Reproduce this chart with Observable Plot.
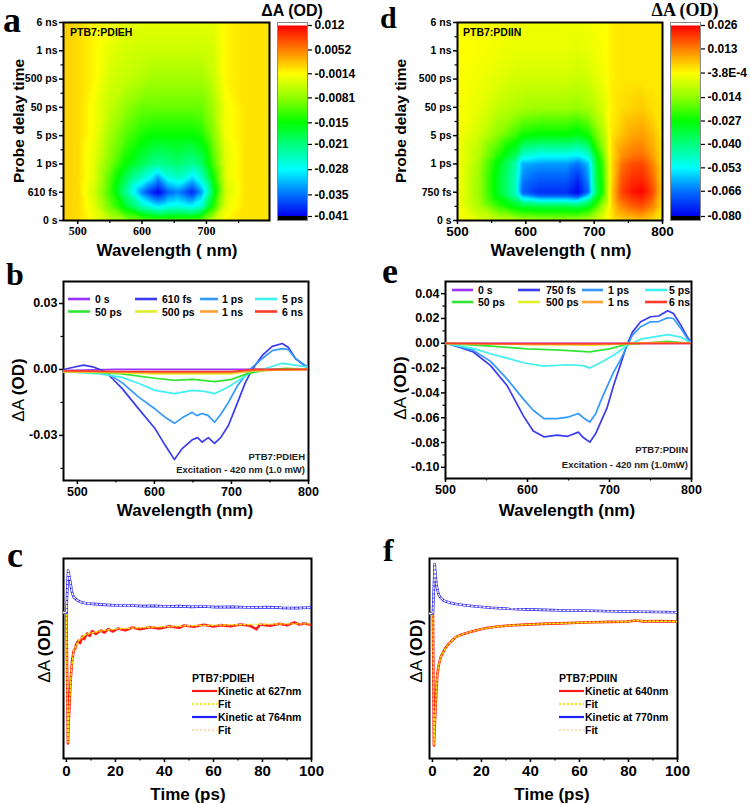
<!DOCTYPE html>
<html><head><meta charset="utf-8">
<script src="https://cdn.jsdelivr.net/npm/d3@7"></script>
<script src="https://cdn.jsdelivr.net/npm/@observablehq/plot@0.6"></script>
<style>
body{margin:0;background:#fff;}
#fig{position:relative;width:750px;height:804px;overflow:hidden;background:#fff;}
#fig > .p{position:absolute;}
#overlay{position:absolute;left:0;top:0;pointer-events:none;}
</style></head><body><div id="fig"></div>
<script>
// ================= DATA =================
// --- heatmap a (PTB7:PDIEH) ---
const timeLabelsA = ["0 s","610 fs","1 ps","5 ps","50 ps","500 ps","1 ns","6 ns"];
const heatAWl = [478, 500, 525, 550, 575, 600, 615, 625, 640, 655, 665, 678, 692, 710, 730, 760, 798];
const heatARow = [0, 0.5, 1, 1.5, 2, 3, 4, 5, 6, 7];
const heatAVals = [
 [0.001, 0.0005, -0.002, -0.005, -0.008, -0.010, -0.011, -0.011, -0.011, -0.011, -0.011, -0.011, -0.010, -0.005, -0.001, 0, 0],
 [0.001, 0.0005, -0.003, -0.010, -0.017, -0.024, -0.027, -0.029, -0.027, -0.026, -0.027, -0.028, -0.025, -0.014, -0.003, 0, 0],
 [0.001, 0.0005, -0.004, -0.012, -0.022, -0.034, -0.039, -0.041, -0.036, -0.034, -0.036, -0.039, -0.033, -0.018, -0.004, 0, 0],
 [0.001, 0.0005, -0.003, -0.011, -0.019, -0.025, -0.029, -0.033, -0.027, -0.025, -0.026, -0.030, -0.025, -0.015, -0.003, 0, 0],
 [0.001, 0.0005, -0.003, -0.009, -0.015, -0.019, -0.021, -0.022, -0.021, -0.020, -0.021, -0.022, -0.020, -0.012, -0.003, 0, 0],
 [0.001, 0.0005, -0.002, -0.007, -0.011, -0.014, -0.015, -0.015, -0.015, -0.015, -0.015, -0.015, -0.014, -0.009, -0.002, 0, 0],
 [0.001, 0.0005, -0.002, -0.005, -0.008, -0.010, -0.010, -0.010, -0.010, -0.010, -0.010, -0.010, -0.010, -0.007, -0.002, 0, 0],
 [0.001, 0.0005, -0.001, -0.004, -0.005, -0.006, -0.007, -0.007, -0.007, -0.007, -0.007, -0.007, -0.007, -0.005, -0.001, 0, 0],
 [0.001, 0.0005, -0.001, -0.003, -0.004, -0.0045, -0.0045, -0.0045, -0.0045, -0.0045, -0.0045, -0.0045, -0.0045, -0.004, -0.001, 0, 0],
 [0.001, 0.0005, -0.001, -0.002, -0.003, -0.003, -0.003, -0.003, -0.003, -0.003, -0.003, -0.003, -0.003, -0.003, -0.001, 0, 0]
];
const cbTicksA = [0.012, 0.0052, -0.0014, -0.0081, -0.015, -0.021, -0.028, -0.035, -0.041];
const cbLabelsA = ["0.012","0.0052","-0.0014","-0.0081","-0.015","-0.021","-0.028","-0.035","-0.041"];

// --- heatmap d (PTB7:PDIIN) ---
const timeLabelsD = ["0 s","750 fs","1 ps","5 ps","50 ps","500 ps","1 ns","6 ns"];
const heatDWl = [500, 530, 560, 585, 595, 620, 640, 660, 676, 692, 702, 714, 725, 740, 755, 770, 785, 800];
const heatDRow = [0, 0.5, 0.9, 1, 1.5, 2, 2.3, 3, 4, 5, 6, 7];
const heatDVals = [
 [-0.001, -0.004, -0.008, -0.010, -0.011, -0.012, -0.012, -0.012, -0.012, -0.010, -0.007, -0.003, 0.001, 0.004, 0.005, 0.006, 0.004, 0.001],
 [-0.001, -0.010, -0.022, -0.030, -0.032, -0.034, -0.034, -0.034, -0.035, -0.030, -0.022, -0.010, 0.003, 0.012, 0.016, 0.018, 0.013, 0.003],
 [-0.001, -0.012, -0.030, -0.045, -0.062, -0.070, -0.070, -0.070, -0.074, -0.058, -0.035, -0.020, 0.004, 0.018, 0.022, 0.024, 0.018, 0.004],
 [-0.001, -0.012, -0.031, -0.046, -0.068, -0.074, -0.074, -0.074, -0.080, -0.066, -0.038, -0.022, 0.004, 0.019, 0.024, 0.026, 0.019, 0.004],
 [-0.001, -0.012, -0.031, -0.046, -0.064, -0.068, -0.068, -0.068, -0.074, -0.062, -0.036, -0.021, 0.003, 0.017, 0.021, 0.022, 0.016, 0.003],
 [-0.001, -0.011, -0.029, -0.044, -0.060, -0.062, -0.062, -0.062, -0.066, -0.058, -0.034, -0.019, 0.003, 0.014, 0.018, 0.019, 0.013, 0.003],
 [-0.001, -0.009, -0.024, -0.036, -0.048, -0.052, -0.052, -0.052, -0.054, -0.048, -0.030, -0.016, 0.002, 0.011, 0.014, 0.015, 0.010, 0.003],
 [-0.001, -0.006, -0.015, -0.022, -0.026, -0.028, -0.028, -0.028, -0.030, -0.026, -0.018, -0.010, 0.002, 0.006, 0.009, 0.010, 0.007, 0.002],
 [-0.001, -0.003, -0.008, -0.010, -0.011, -0.012, -0.012, -0.012, -0.013, -0.011, -0.008, -0.005, 0.001, 0.003, 0.004, 0.005, 0.003, 0.002],
 [-0.0005, -0.002, -0.004, -0.006, -0.006, -0.006, -0.006, -0.006, -0.007, -0.006, -0.004, -0.002, 0.001, 0.002, 0.002, 0.002, 0.002, 0.002],
 [-0.0005, -0.001, -0.002, -0.003, -0.003, -0.003, -0.003, -0.003, -0.004, -0.003, -0.002, -0.001, 0.001, 0.002, 0.002, 0.002, 0.002, 0.002],
 [-0.0005, -0.001, -0.001, -0.002, -0.002, -0.002, -0.002, -0.002, -0.002, -0.002, -0.001, -0.001, 0.001, 0.002, 0.002, 0.002, 0.002, 0.002]
];
const cbTicksD = [0.026, 0.013, -0.00038, -0.014, -0.027, -0.040, -0.053, -0.066, -0.080];
const cbLabelsD = ["0.026","0.013","-3.8E-4","-0.014","-0.027","-0.040","-0.053","-0.066","-0.080"];

// colour stops, top (max) to bottom (min)
const paletteTopDown = ["#ff0000","#ff8000","#ffff00","#90ff00","#00ff00","#00ff80","#00ffff","#0070ff","#0000f0"];

// --- spectra b (PTB7:PDIEH) ---
const bLabels = ["0 s","610 fs","1 ps","5 ps","50 ps","500 ps","1 ns","6 ns"];
const specColors = ["#9933ff","#3b3bef","#3399ff","#40f0f0","#33e633","#dfef2a","#ffa033","#ff3b2b"];
const bW0s = [482, 550, 600, 650, 700, 750, 800];
const bV0s = [-0.0005, 0, 0, 0, 0, 0, 0];
const bW610fs = [482, 495, 508, 520, 536, 545, 558, 579, 601, 614, 626, 636, 649, 656, 662, 670, 678, 686, 696, 708, 718, 727, 740, 753, 766, 774, 783, 796, 800];
const bV610fs = [0.000, 0.001, 0.002, 0.0012, -0.001, -0.004, -0.0086, -0.0177, -0.027, -0.0345, -0.041, -0.036, -0.032, -0.031, -0.033, -0.031, -0.0336, -0.031, -0.0255, -0.015, -0.006, 0.000, 0.0064, 0.0105, 0.0118, 0.010, 0.005, 0.0014, 0.001];
const bW1ps = [482, 520, 540, 558, 580, 601, 615, 626, 636, 649, 655, 662, 670, 678, 686, 696, 708, 718, 724, 740, 753, 766, 774, 783, 796, 800];
const bV1ps = [-0.001, -0.001, -0.002, -0.006, -0.0127, -0.018, -0.022, -0.0245, -0.022, -0.0195, -0.021, -0.020, -0.021, -0.024, -0.0205, -0.015, -0.0073, -0.0027, 0.000, 0.005, 0.0086, 0.0095, 0.009, 0.005, 0.0018, 0.001];
const bW5ps = [482, 530, 558, 580, 601, 626, 649, 665, 678, 696, 718, 727, 740, 766, 783, 800];
const bV5ps = [-0.001, -0.002, -0.0036, -0.0064, -0.0095, -0.011, -0.0095, -0.010, -0.011, -0.008, -0.003, -0.001, 0.000, 0.0028, 0.002, 0.001];
const bW50ps = [482, 530, 558, 601, 626, 650, 678, 700, 720, 740, 770, 800];
const bV50ps = [-0.001, -0.0015, -0.002, -0.004, -0.005, -0.0045, -0.0055, -0.0045, -0.002, -0.0005, 0.0005, 0.0];
const bW500ps = [482, 550, 600, 650, 700, 730, 800];
const bV500ps = [-0.001, -0.0015, -0.002, -0.002, -0.002, -0.0005, 0];
const bW1ns = [482, 550, 600, 650, 700, 730, 800];
const bV1ns = [-0.001, -0.001, -0.0015, -0.0015, -0.0015, -0.0005, 0];
const bW6ns = [482, 550, 600, 650, 700, 730, 799, 800, 800];
const bV6ns = [-0.0005, -0.001, -0.001, -0.001, -0.001, 0, 0, 0, 0.05];

// --- spectra e (PTB7:PDIIN) ---
const eLabels = ["0 s","750 fs","1 ps","5 ps","50 ps","500 ps","1 ns","6 ns"];
const eW0s = [500, 600, 700, 740, 760, 780, 800];
const eV0s = [0, 0, 0, 0, 0, 0, 0];
const eW750fs = [500, 502, 534, 555, 575, 595, 607, 620, 636, 649, 662, 668, 676, 683, 689, 697, 705, 713, 721, 728, 738, 750, 760, 771, 778, 787, 795, 800];
const eV750fs = [0, 0, -0.007, -0.018, -0.034, -0.0585, -0.0707, -0.0754, -0.074, -0.075, -0.0716, -0.076, -0.0797, -0.073, -0.064, -0.052, -0.034, -0.018, -0.0016, 0.009, 0.0173, 0.0214, 0.022, 0.0263, 0.024, 0.0146, 0.005, 0.0];
const eW1ps = [500, 534, 555, 575, 595, 607, 620, 636, 649, 662, 668, 676, 683, 689, 697, 705, 713, 721, 728, 738, 750, 760, 771, 778, 787, 795, 800];
const eV1ps = [0, -0.0057, -0.0146, -0.0287, -0.045, -0.054, -0.0607, -0.0607, -0.0596, -0.0566, -0.060, -0.0634, -0.057, -0.047, -0.035, -0.0233, -0.0138, -0.003, 0.0065, 0.0133, 0.0173, 0.0175, 0.0206, 0.020, 0.012, 0.0038, 0];
const eW5ps = [500, 534, 555, 575, 595, 620, 649, 668, 676, 689, 705, 721, 738, 760, 771, 787, 800];
const eV5ps = [0, -0.0043, -0.0084, -0.012, -0.0157, -0.0184, -0.0173, -0.018, -0.020, -0.0157, -0.0097, -0.002, 0.0033, 0.0057, 0.007, 0.005, 0];
const eW50ps = [500, 560, 600, 640, 676, 700, 720, 740, 770, 800];
const eV50ps = [0, -0.0025, -0.0045, -0.0055, -0.007, -0.0045, -0.001, 0, 0.0015, 0];
const eW500ps = [500, 600, 680, 720, 760, 800];
const eV500ps = [0, -0.001, -0.0015, -0.0005, 0.0005, 0];
const eW1ns = [500, 600, 680, 720, 760, 800];
const eV1ns = [0, -0.001, -0.001, 0, 0.0005, 0];
const eW6ns = [500, 600, 700, 800];
const eV6ns = [0, -0.0003, -0.0003, 0];

// --- kinetics c (PTB7:PDIEH) ---
const cT627 = [-1.2, 0, 0.3, 0.6, 0.9, 1.2, 1.6, 1.9, 2.4, 3, 3.6, 4, 5, 5.6, 6.5, 7.2, 8.4, 9.5, 10.5, 12, 14, 15.5, 17, 19, 21, 24, 27, 30, 34, 38, 42, 46, 48, 52, 56, 60, 63, 67, 71, 75, 77.5, 79, 83, 87, 90, 93, 95, 97, 100];
const cV627 = [0, 0, -0.02, -0.0393, -0.033, -0.0285, -0.022, -0.0183, -0.014, -0.0114, -0.0108, -0.0095, -0.0084, -0.0092, -0.0072, -0.0080, -0.0063, -0.0070, -0.0056, -0.0064, -0.0054, -0.0060, -0.0050, -0.0057, -0.0048, -0.0053, -0.0045, -0.0050, -0.0044, -0.0048, -0.0041, -0.0046, -0.0039, -0.0043, -0.0037, -0.0042, -0.0038, -0.0041, -0.0036, -0.0040, -0.0050, -0.0036, -0.0040, -0.0034, -0.0038, -0.0030, -0.0036, -0.0033, -0.0037];
const cTFit627 = [-1.2, 0, 0.3, 0.6, 1.0, 1.5, 2, 3, 5, 8, 14, 21, 34, 48, 61, 75, 89, 100];
const cVFit627 = [0, 0, -0.02, -0.039, -0.031, -0.024, -0.017, -0.0114, -0.0084, -0.0065, -0.0055, -0.0049, -0.0044, -0.0040, -0.0038, -0.0036, -0.0034, -0.0034];
const cT764 = [-1.2, 0, 0.4, 0.7, 1.0, 1.5, 2, 2.4, 3, 4.5, 6, 8.4, 12, 16, 21, 26, 31, 36, 41, 46, 51, 56, 61, 68, 75, 82, 88, 94, 100];
const cV764 = [0, 0, 0.008, 0.0126, 0.0115, 0.0096, 0.0072, 0.0057, 0.0046, 0.0036, 0.0031, 0.0027, 0.0025, 0.0023, 0.0021, 0.0021, 0.0019, 0.0020, 0.0018, 0.0019, 0.0017, 0.0018, 0.0016, 0.0017, 0.0015, 0.0016, 0.0014, 0.0013, 0.0015];

// --- kinetics f (PTB7:PDIIN) ---
const fT640 = [-1.2, 0.2, 0.4, 0.6, 1.0, 1.4, 2, 2.7, 3.4, 4.5, 5.5, 7.5, 9.5, 12, 15, 18, 22, 26, 31, 38, 45, 52, 59, 66, 72, 79, 83, 86, 93, 100];
const fV640 = [0, 0, -0.04, -0.0726, -0.060, -0.0479, -0.033, -0.0275, -0.024, -0.021, -0.0185, -0.0155, -0.013, -0.0115, -0.0103, -0.0092, -0.0080, -0.0073, -0.0066, -0.0061, -0.0057, -0.0054, -0.0051, -0.0048, -0.0046, -0.0045, -0.0038, -0.0043, -0.0042, -0.0044];
const fT770 = [-1.2, 0.2, 0.6, 0.9, 1.2, 1.6, 2.1, 2.7, 3.5, 4.5, 5.5, 8, 11, 14, 18, 24, 31, 38, 45, 55, 65, 72, 85, 100];
const fV770 = [0, 0, 0.015, 0.0273, 0.022, 0.0163, 0.0125, 0.0099, 0.0085, 0.0073, 0.0066, 0.0057, 0.0050, 0.0044, 0.0039, 0.0032, 0.0026, 0.0023, 0.0020, 0.0017, 0.0015, 0.0013, 0.0010, 0.0007];

// ================= HELPERS =================
const sans = "'Liberation Sans', Arial, sans-serif";
const serif = "'Liberation Serif', 'Times New Roman', serif";
const fig = document.getElementById("fig");
function place(node, left, top, w, h) {
  const d = document.createElement("div");
  d.className = "p";
  Object.assign(d.style, {left: left + "px", top: top + "px", width: w + "px", height: h + "px"});
  d.appendChild(node);
  fig.appendChild(d);
}
const baseStyle = {fontFamily: sans, fontWeight: "bold", fontSize: "12.5px", background: "transparent", overflow: "visible", maxWidth: "none", color: "#000"};
function gridTable(cols, rows, vals) {
  const out = [];
  rows.forEach((t, i) => cols.forEach((w, j) => out.push({w, t, v: vals[i][j]})));
  return out;
}
function zipXY(xs, ys) { return xs.map((x, i) => ({x, y: ys[i]})); }
const paletteAsc = paletteTopDown.slice().reverse();

// ================= HEATMAPS =================
function heatmap({table, xDomain, xTicks, xMinor, xFontFamily, xFontSize, timeLabels, cbTicks, width, ml, mr}) {
  const idx = timeLabels.map((_, i) => i);
  const halves = idx.slice(0, -1).map(i => i + 0.5);
  return Plot.plot({
    width, height: 260, marginLeft: ml, marginRight: mr, marginTop: 22, marginBottom: 40,
    style: baseStyle,
    x: {domain: xDomain, label: null},
    y: {domain: [0, 7], label: null},
    color: {type: "linear", domain: cbTicks.slice().reverse(), range: paletteAsc, clamp: true},
    marks: [
      Plot.raster(table, {x: "w", y: "t", fill: "v", interpolate: "barycentric", x1: xDomain[0], x2: xDomain[1], y1: 0, y2: 7}),
      Plot.frame({stroke: "#000", strokeWidth: 2}),
      Plot.axisX(xTicks, {tickSize: 4, tickPadding: 2, strokeWidth: 1.5, fontFamily: xFontFamily, fontSize: xFontSize, label: null, tickFormat: d => String(d)}),
      Plot.axisX(xMinor, {tickSize: 3, strokeWidth: 1.2, label: null, tickFormat: () => ""}),
      Plot.axisY(idx, {tickSize: 4, tickPadding: 2, strokeWidth: 1.5, fontSize: 10.5, label: null, tickFormat: d => timeLabels[d]}),
      Plot.axisY(halves, {tickSize: 2.5, strokeWidth: 1.2, label: null, tickFormat: () => ""})
    ]
  });
}
function colorbar({cbTicks, cbLabels, yDomain, width, mr}) {
  const top = cbTicks[0], bot = cbTicks[cbTicks.length - 1];
  return Plot.plot({
    width, height: 240, marginLeft: 7, marginRight: mr, marginTop: 22, marginBottom: 20,
    style: baseStyle,
    x: {domain: [0, 1], axis: null},
    y: {domain: yDomain, label: null},
    color: {type: "linear", domain: cbTicks.slice().reverse(), range: paletteAsc, clamp: true},
    marks: [
      Plot.raster({fill: (x, y) => y, x1: 0, x2: 1, y1: bot, y2: top}),
      Plot.rect([0], {x1: 0, x2: 1, y1: top, y2: yDomain[1], fill: "#ffffff"}),
      Plot.rect([0], {x1: 0, x2: 1, y1: yDomain[0], y2: bot, fill: "#000000"}),
      Plot.frame({stroke: "#8a8a8a", strokeWidth: 1}),
      Plot.axisY(cbTicks, {anchor: "right", tickSize: 4, tickPadding: 3, strokeWidth: 1.2, fontSize: 12, label: null,
        tickFormat: d => cbLabels[cbTicks.indexOf(d)]})
    ]
  });
}

place(heatmap({table: gridTable(heatAWl, heatARow, heatAVals), xDomain: [478, 798], xTicks: [500, 600, 700], xMinor: [550, 650, 750],
  xFontFamily: serif, xFontSize: 12, timeLabels: timeLabelsA, cbTicks: cbTicksA, width: 275, ml: 63, mr: 6}), 0, 0, 275, 260);
place(colorbar({cbTicks: cbTicksA, cbLabels: cbLabelsA, yDomain: [-0.04211, 0.01283], width: 80, mr: 43}), 270, 0, 80, 240);
place(heatmap({table: gridTable(heatDWl, heatDRow, heatDVals), xDomain: [500, 800], xTicks: [500, 600, 700, 800], xMinor: [550, 650, 750],
  xFontFamily: sans, xFontSize: 13.5, timeLabels: timeLabelsD, cbTicks: cbTicksD, width: 300, ml: 82, mr: 13}), 375, 0, 300, 260);
place(colorbar({cbTicks: cbTicksD, cbLabels: cbLabelsD, yDomain: [-0.08222, 0.02766], width: 87, mr: 50}), 663, 0, 87, 240);

// ================= SPECTRA =================
function spectra({series, xDomain, yDomain, yTicks, yMinor, width, ml, mr, mb}) {
  return Plot.plot({
    width, height: 250, marginLeft: ml, marginRight: mr, marginTop: 21, marginBottom: mb,
    style: baseStyle,
    x: {domain: xDomain, label: null},
    y: {domain: yDomain, label: null},
    marks: [
      Plot.frame({stroke: "#000", strokeWidth: 2}),
      ...series.map(s => Plot.line(zipXY(s.w, s.v), {x: "x", y: "y", stroke: s.color, strokeWidth: 1.7, clip: true})),
      Plot.axisX([500, 600, 700, 800], {tickSize: 4, tickPadding: 3, strokeWidth: 1.5, fontSize: 12.5, label: null, tickFormat: d => String(d)}),
      Plot.axisX([550, 650, 750], {tickSize: 2.5, strokeWidth: 1.2, label: null, tickFormat: () => ""}),
      Plot.axisY(yTicks, {tickSize: 4, tickPadding: 2, strokeWidth: 1.5, fontSize: 12.5, label: null, tickFormat: d => d.toFixed(2)}),
      Plot.axisY(yMinor, {tickSize: 2.5, strokeWidth: 1.2, label: null, tickFormat: () => ""})
    ]
  });
}
const bSeries = [
  {w: bW0s, v: bV0s}, {w: bW610fs, v: bV610fs}, {w: bW1ps, v: bV1ps}, {w: bW5ps, v: bV5ps},
  {w: bW50ps, v: bV50ps}, {w: bW500ps, v: bV500ps}, {w: bW1ns, v: bV1ns}, {w: bW6ns, v: bV6ns}
].map((s, i) => ({...s, color: specColors[i]}));
const eSeries = [
  {w: eW0s, v: eV0s}, {w: eW750fs, v: eV750fs}, {w: eW1ps, v: eV1ps}, {w: eW5ps, v: eV5ps},
  {w: eW50ps, v: eV50ps}, {w: eW500ps, v: eV500ps}, {w: eW1ns, v: eV1ns}, {w: eW6ns, v: eV6ns}
].map((s, i) => ({...s, color: specColors[i]}));

place(spectra({series: bSeries, xDomain: [482, 800], yDomain: [-0.0505, 0.04], yTicks: [0.03, 0, -0.03], yMinor: [0.015, -0.015, -0.045],
  width: 320, ml: 63, mr: 12, mb: 30}), 0, 260, 320, 250);
place(spectra({series: eSeries, xDomain: [500, 800], yDomain: [-0.109, 0.0498], yTicks: [0.04, 0.02, 0, -0.02, -0.04, -0.06, -0.08, -0.10],
  yMinor: [0.03, 0.01, -0.01, -0.03, -0.05, -0.07, -0.09], width: 325, ml: 70, mr: 9, mb: 32}), 375, 260, 325, 250);

// ================= KINETICS =================
function kinetics({red, redFit, blue, blueFit, yDomain, width, ml, mr}) {
  return Plot.plot({
    width, height: 260, marginLeft: ml, marginRight: mr, marginTop: 18, marginBottom: 42,
    style: baseStyle,
    x: {domain: [-1.2, 100], label: null},
    y: {domain: yDomain, axis: null},
    marks: [
      Plot.frame({stroke: "#000", strokeWidth: 2}),
      Plot.line(red, {x: "x", y: "y", stroke: "#ff1a1a", strokeWidth: 2.6, clip: true}),
      Plot.line(redFit, {x: "x", y: "y", stroke: "#f2f200", strokeWidth: 1.4, strokeDasharray: "2,2", clip: true}),
      Plot.line(blue, {x: "x", y: "y", stroke: "#2020ff", strokeWidth: 2.6, clip: true}),
      Plot.line(blueFit, {x: "x", y: "y", stroke: "#fff0d8", strokeWidth: 1.4, strokeDasharray: "2,2", clip: true}),
      Plot.axisX([0, 20, 40, 60, 80, 100], {tickSize: 4, tickPadding: 3, strokeWidth: 1.5, fontSize: 15, label: null, tickFormat: d => String(d)}),
      Plot.axisX([10, 30, 50, 70, 90], {tickSize: 2.5, strokeWidth: 1.2, label: null, tickFormat: () => ""})
    ]
  });
}
place(kinetics({red: zipXY(cT627, cV627), redFit: zipXY(cTFit627, cVFit627), blue: zipXY(cT764, cV764), blueFit: zipXY(cT764, cV764),
  yDomain: [-0.0438, 0.0162], width: 330, ml: 63, mr: 19}), 0, 540, 330, 260);
place(kinetics({red: zipXY(fT640, fV640), redFit: zipXY(fT640, fV640), blue: zipXY(fT770, fV770), blueFit: zipXY(fT770, fV770),
  yDomain: [-0.0798, 0.0303], width: 320, ml: 54, mr: 18}), 375, 540, 320, 260);

// ================= OVERLAY TEXT / LEGENDS =================
const ov = d3.select(fig).append("svg").attr("id", "overlay").attr("width", 750).attr("height", 804);
function txt(s, x, y, o = {}) {
  const t = ov.append("text").attr("x", x).attr("y", y)
    .attr("font-family", o.family || sans).attr("font-weight", o.weight || "bold")
    .attr("font-size", o.size || 12).attr("text-anchor", o.anchor || "start").attr("fill", o.fill || "#000");
  if (o.rotate) t.attr("x", 0).attr("y", 0).attr("transform", `translate(${x},${y}) rotate(${o.rotate})`);
  t.text(s);
  return t;
}
function deltaLabel(x, y, size) {
  const t = ov.append("text").attr("transform", `translate(${x},${y}) rotate(-90)`).attr("text-anchor", "middle")
    .attr("font-family", sans).attr("font-size", size).attr("fill", "#000");
  t.append("tspan").attr("font-weight", "normal").text("\u0394A ");
  t.append("tspan").attr("font-weight", "bold").text("(OD)");
}
function seg(x1, x2, y, color, w = 2.5, dash = null) {
  const l = ov.append("line").attr("x1", x1).attr("x2", x2).attr("y1", y).attr("y2", y)
    .attr("stroke", color).attr("stroke-width", w);
  if (dash) l.attr("stroke-dasharray", dash);
}
// panel letters
[["a", 3, 32, 36], ["b", 6, 285, 32], ["c", 7, 567, 36], ["d", 380, 28, 30], ["e", 382, 283, 36], ["f", 383, 561, 32]]
  .forEach(([s, x, y, size]) => txt(s, x, y, {family: serif, size}));
// heatmap labels
txt("PTB7:PDIEH", 70, 36, {size: 10.5});
txt("PTB7:PDIIN", 463, 36, {size: 10.5});
txt("\u0394A (OD)", 292, 16, {size: 16, anchor: "middle"});
txt("\u0394A (OD)", 685, 16, {size: 18, anchor: "middle", family: serif});
txt("Probe delay time", 24, 121, {size: 15.5, anchor: "middle", rotate: -90});
txt("Probe delay time", 406, 121, {size: 15.5, anchor: "middle", rotate: -90});
txt("Wavelength ( nm)", 167, 256, {size: 17, anchor: "middle"});
txt("Wavelength ( nm)", 561, 256, {size: 17, anchor: "middle"});
// spectra labels
txt("Wavelength (nm)", 185, 516, {size: 17, anchor: "middle"});
txt("Wavelength (nm)", 567, 516, {size: 17, anchor: "middle"});
deltaLabel(24, 390, 17);
deltaLabel(406, 388, 17);
txt("PTB7:PDIEH", 305, 460, {size: 9.5, anchor: "end", fill: "#222"});
txt("Excitation - 420 nm (1.0 mW)", 305, 473, {size: 9.5, anchor: "end", fill: "#222"});
txt("PTB7:PDIIN", 688, 453, {size: 9.5, anchor: "end", fill: "#222"});
txt("Excitation - 420 nm (1.0mW)", 688, 468, {size: 9.5, anchor: "end", fill: "#222"});
// spectra legends (4 columns x 2 rows)
const bLegCols = [[68, 90, 95], [135, 157, 162], [200, 218, 222], [255, 277, 282]];
const bLegRows = [299, 311.5];
bLabels.forEach((s, i) => {
  const [x1, x2, tx] = bLegCols[i % 4], y = bLegRows[Math.floor(i / 4)];
  seg(x1, x2, y, specColors[i], 2.6);
  txt(s, tx, y + 4, {size: 10.5});
});
const eLegCols = [[452, 473, 478], [518, 540, 546], [582, 603, 608], [645, 667, 669]];
const eLegRows = [290, 302];
eLabels.forEach((s, i) => {
  const [x1, x2, tx] = eLegCols[i % 4], y = eLegRows[Math.floor(i / 4)];
  seg(x1, x2, y, specColors[i], 2.6);
  txt(s, tx, y + 4, {size: 10.5});
});
// kinetics labels
txt("Time (ps)", 188, 800, {size: 17, anchor: "middle"});
txt("Time (ps)", 552, 800, {size: 17, anchor: "middle"});
deltaLabel(50, 651, 17);
deltaLabel(422, 651, 17);
function kinLegend(x0, title, l1, l2) {
  txt(title, x0, 682, {size: 10.5});
  const rows = [[695, l1, "#ff1a1a", null], [708, "Fit", "#eeee00", "2,2"], [721, l2, "#2020ff", null], [734, "Fit", "#ffdcb4", "2,2"]];
  rows.forEach(([y, s, c, dash]) => { seg(x0, x0 + 25, y - 4, c, 2.2, dash); txt(s, x0 + 26, y, {size: 10.5}); });
}
kinLegend(192, "PTB7:PDIEH", "Kinetic at  627nm", "Kinetic at  764nm");
kinLegend(559, "PTB7:PDIIN", "Kinetic at  640nm", "Kinetic at  770nm");
</script></body></html>
